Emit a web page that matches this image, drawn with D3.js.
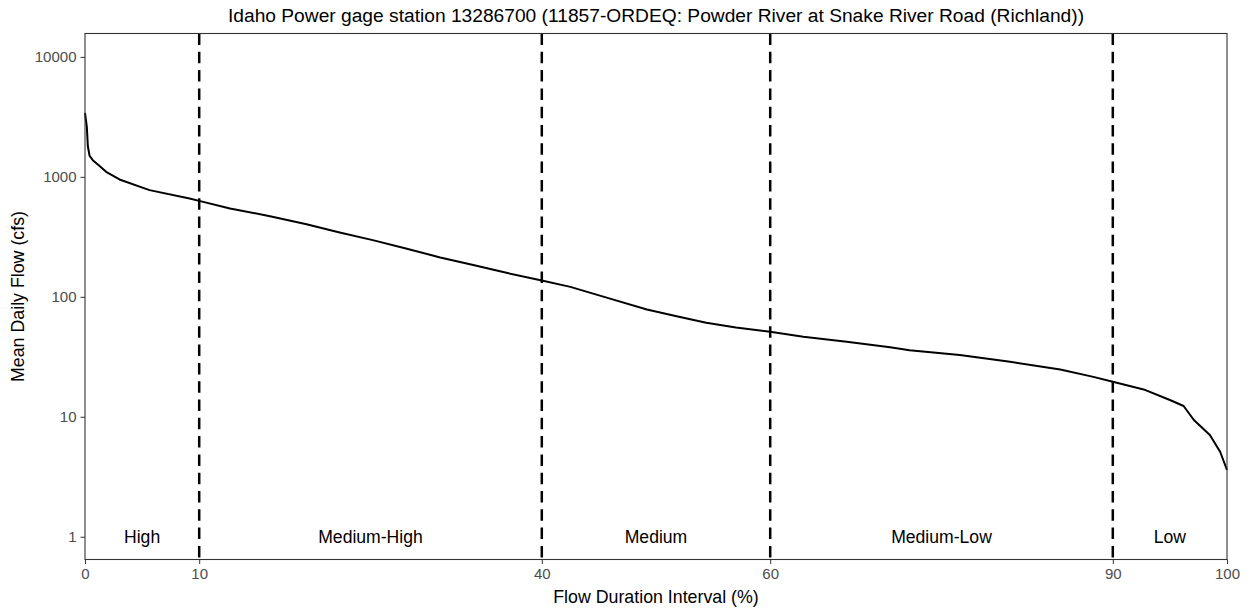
<!DOCTYPE html>
<html>
<head>
<meta charset="utf-8">
<script src="https://cdn.jsdelivr.net/npm/d3@7"></script>
<style>
  body { margin: 0; background: #fff; }
  svg { display: block; font-family: "Liberation Sans", Arial, sans-serif; }
  .axis text { fill: #4d4d4d; font-size: 15px; }
  .axis line { stroke: #333; }
  .axis path { display: none; }
</style>
</head>
<body>
<svg id="chart" width="1249" height="611"></svg>
<script>
// flow duration curve
const pct = [0, 0.16, 0.25, 0.4, 0.68, 1.2, 1.85, 3.02, 5.65, 9.16, 10, 12.7, 16.2, 19.4, 22.3, 25.2, 28.1, 31.1, 34.0,
  36.9, 40, 42.5, 45.9, 49.2, 52.1, 54.4, 57.0, 60, 62.9, 66.7, 70.5, 72.2, 76.6, 81.0, 85.4, 88.3, 90, 92.7, 95.0,
  96.2, 97.1, 98.5, 99.4, 100];
const flow = [3415, 2610, 1800, 1500, 1377, 1250, 1101, 951, 775, 661, 631, 545, 470, 403, 344, 297, 253, 213, 184,
  158.5, 137, 121, 97, 78.5, 68, 60.7, 55.6, 51.1, 46.4, 42.2, 37.9, 35.9, 32.7, 28.7, 24.8, 21.5, 19.6, 16.9, 13.8,
  12.3, 9.4, 7.04, 5.11, 3.6];

const breaks = [10, 40, 60, 90];
const zoneNames = ["High", "Medium-High", "Medium", "Medium-Low", "Low"];
const zoneCenters = [5, 25, 50, 75, 95];

const xTicks = [0, 10, 40, 60, 90, 100];
const yTicks = [1, 10, 100, 1000, 10000];

const svg = d3.select("#chart");
const margin = { top: 33.5, right: 22, bottom: 51.5, left: 85 };
const width = +svg.attr("width") - margin.left - margin.right;
const height = +svg.attr("height") - margin.top - margin.bottom;

const x = d3.scaleLinear().domain([0, 100]).range([0, width]);
const y = d3.scaleLog().domain([0.646, 15670]).range([height, 0]);

const g = svg.append("g")
  .attr("transform", "translate(" + margin.left + "," + margin.top + ")");

g.append("g")
  .attr("class", "axis")
  .attr("transform", "translate(0," + height + ")")
  .call(d3.axisBottom(x).tickValues(xTicks).tickSize(4.5).tickPadding(4).tickFormat(d3.format("d")));

g.append("g")
  .attr("class", "axis")
  .call(d3.axisLeft(y).tickValues(yTicks).tickSize(4.5).tickPadding(4).tickFormat(d3.format("d")));

// zone dividers
g.selectAll(".brk")
  .data(breaks)
  .enter().append("line")
    .attr("x1", d => x(d)).attr("x2", d => x(d))
    .attr("y1", 0).attr("y2", height)
    .attr("stroke", "#000")
    .attr("stroke-width", 2.5)
    .attr("stroke-dasharray", "11.5,6.8");

const line = d3.line()
  .x((d, i) => x(pct[i]))
  .y(d => y(d));

g.append("path")
  .datum(flow)
  .attr("fill", "none")
  .attr("stroke", "#000")
  .attr("stroke-width", 2)
  .attr("stroke-linejoin", "round")
  .attr("d", line);

g.selectAll(".zone")
  .data(zoneNames)
  .enter().append("text")
    .attr("x", (d, i) => x(zoneCenters[i]))
    .attr("y", y(1))
    .attr("dy", "0.35em")
    .attr("text-anchor", "middle")
    .attr("font-size", "17.6px")
    .attr("fill", "#000")
    .text(d => d);

// panel border
g.append("rect")
  .attr("width", width).attr("height", height)
  .attr("fill", "none")
  .attr("stroke", "#333")
  .attr("stroke-width", 1.1);

svg.append("text")
  .attr("x", margin.left + width / 2)
  .attr("y", 22)
  .attr("text-anchor", "middle")
  .attr("font-size", "19.2px")
  .attr("fill", "#000")
  .text("Idaho Power gage station 13286700 (11857-ORDEQ: Powder River at Snake River Road (Richland))");

svg.append("text")
  .attr("x", margin.left + width / 2)
  .attr("y", 603)
  .attr("text-anchor", "middle")
  .attr("font-size", "17.8px")
  .attr("fill", "#000")
  .text("Flow Duration Interval (%)");

svg.append("text")
  .attr("transform", "translate(24," + (margin.top + height / 2) + ") rotate(-90)")
  .attr("text-anchor", "middle")
  .attr("font-size", "17.8px")
  .attr("fill", "#000")
  .text("Mean Daily Flow (cfs)");
</script>
</body>
</html>
